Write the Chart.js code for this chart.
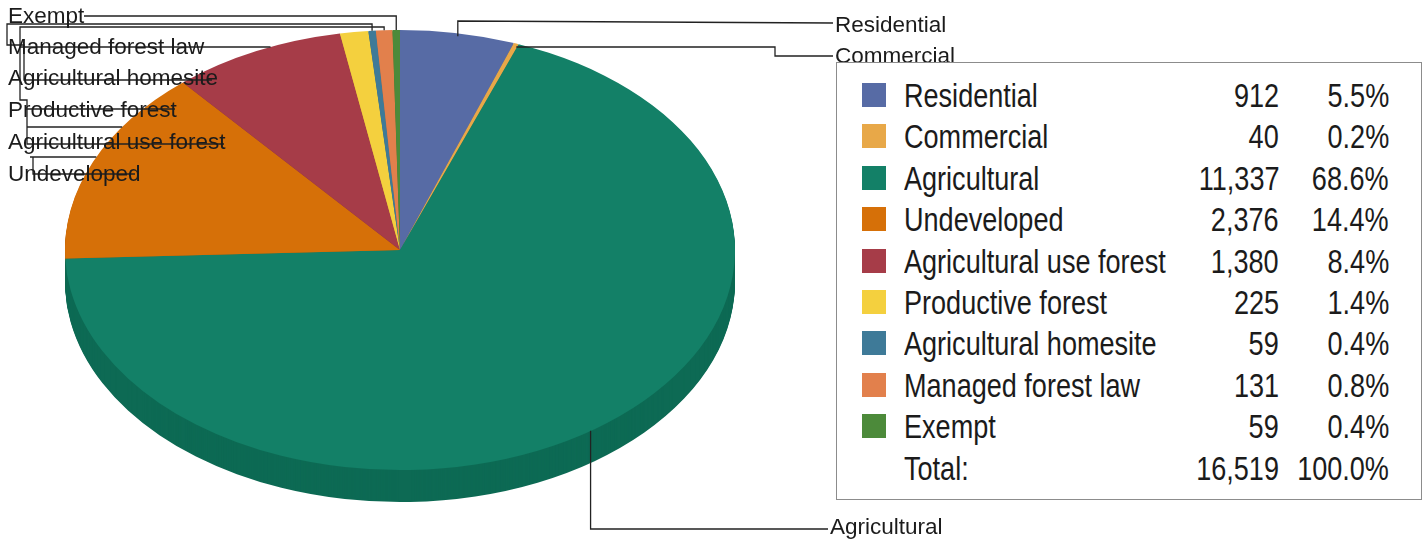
<!DOCTYPE html>
<html>
<head>
<meta charset="utf-8">
<script src="https://cdn.jsdelivr.net/npm/chart.js@4/dist/chart.umd.min.js"></script>
<style>
  html, body { margin: 0; padding: 0; background: #ffffff; }
  #wrap { position: relative; width: 1425px; height: 550px; overflow: hidden; background: #ffffff; }
  #pie { position: absolute; left: 0; top: 0; }
  .callout { position: absolute; font-family: "Liberation Sans", Arial, sans-serif; font-size: 22.5px;
             line-height: 22px; color: #1b1b1b; white-space: nowrap; }
  #legend { position: absolute; left: 836px; top: 62px; width: 584px; height: 436px;
            border: 1px solid #8c8c8c; background: #ffffff; color: #1b1b1b;
            font-family: "Liberation Sans Narrow", "Liberation Sans", Arial, sans-serif; font-size: 33px; }
  #legend div { position: absolute; line-height: 33px; white-space: nowrap; }
  #legend .l { transform: scaleX(0.82); transform-origin: 0 50%; }
  #legend .r { transform: scaleX(0.82); transform-origin: 100% 50%; }
  #legend .sw { width: 24px; height: 24px; }
</style>
</head>
<body>
<div id="wrap">
  <canvas id="pie" width="1425" height="550"></canvas>
  <div id="labels"></div>
  <div id="legend"></div>
</div>
<script>
// Parcel counts by land use class
const categories = ['Residential', 'Commercial', 'Agricultural', 'Undeveloped', 'Agricultural use forest',
                    'Productive forest', 'Agricultural homesite', 'Managed forest law', 'Exempt'];
const parcels = [912, 40, 11337, 2376, 1380, 225, 59, 131, 59];
const totalLabel = 'Total:';

const topColors  = ['#576ba5', '#e8a848', '#138067', '#d67008', '#a63c48', '#f4d03e', '#3e7a98', '#e2804c', '#4c8a3a'];
const sideColors = ['#44558a', '#c08a38', '#0d6a54', '#b05c06', '#88303a', '#cfae30', '#30627c', '#ba683c', '#3c7030'];

const TILT = 0.657;   // vertical squash of the pie disc
const DEPTH = 32;     // thickness of the disc in px

// callout label placement: [left x, vertical centre]
const calloutPos = [
  [835, 25], [835, 56], [830, 527], [8, 174], [8, 142], [8, 110], [8, 78], [8, 47], [8, 16]
];

const total = parcels.reduce((a, b) => a + b, 0);
const fmt = n => n.toLocaleString('en-US');
const pct = n => (n / total * 100).toFixed(1) + '%';

function geom(chart) {
  const meta = chart.getDatasetMeta(0);
  const a0 = meta.data[0];
  const { x, y, outerRadius } = a0.getProps(['x', 'y', 'outerRadius'], true);
  const anchor = i => {
    const p = meta.data[i].getProps(['startAngle', 'endAngle'], true);
    const m = (p.startAngle + p.endAngle) / 2;
    return { x: x + outerRadius * Math.cos(m), y: y + outerRadius * TILT * Math.sin(m) };
  };
  const edgeX = yy => {
    const t = (yy - y) / (outerRadius * TILT);
    return x - outerRadius * Math.sqrt(Math.max(0, 1 - t * t));
  };
  return { meta, x, y, r: outerRadius, anchor, edgeX };
}

const pie3d = {
  id: 'pie3d',
  beforeDatasetsDraw(chart) {
    const ctx = chart.ctx;
    const g = geom(chart);
    const sector = (arc, dy, color) => {
      const p = arc.getProps(['x', 'y', 'startAngle', 'endAngle', 'outerRadius'], true);
      ctx.save();
      ctx.translate(p.x, p.y + dy);
      ctx.scale(1, TILT);
      ctx.beginPath();
      ctx.moveTo(0, 0);
      ctx.arc(0, 0, p.outerRadius, p.startAngle, p.endAngle);
      ctx.closePath();
      ctx.fillStyle = color;
      ctx.fill();
      ctx.restore();
    };
    for (let d = DEPTH; d > 0; d--) {
      g.meta.data.forEach((arc, i) => sector(arc, d, sideColors[i]));
    }
    g.meta.data.forEach((arc, i) => sector(arc, 0, topColors[i]));
    return false;
  },
  afterDraw(chart) {
    const ctx = chart.ctx;
    const g = geom(chart);
    const a = categories.map((_, i) => g.anchor(i));
    const paths = [
      [[833, 23], [a[0].x, 21], [a[0].x, a[0].y + 3]],
      [[833, 56], [775, 56], [775, 47], [a[1].x, 47]],
      [[828, 529], [a[2].x - 5, 529], [a[2].x - 5, a[2].y + 2]],
      [[84, 16], [a[8].x, 16], [a[8].x, a[8].y]],
      [[a[7].x, a[7].y], [a[7].x, 27], [20, 27], [20, 47], [g.edgeX(47), 47]],
      [[a[6].x, a[6].y], [a[6].x, 24], [7, 24], [7, 45], [24, 45], [24, 80], [212, 80]],
      [[20, 47], [20, 100], [27, 100], [27, 109], [175, 109]],
      [[27, 109], [27, 144], [224, 144]],
      [[27, 127], [g.edgeX(127), 127]],
      [[30, 157], [g.edgeX(157), 157]],
      [[33, 157], [33, 174], [135, 174]]
    ];
    ctx.save();
    ctx.strokeStyle = '#222222';
    ctx.lineWidth = 1.3;
    paths.forEach(pts => {
      ctx.beginPath();
      pts.forEach((p, k) => k ? ctx.lineTo(p[0], p[1]) : ctx.moveTo(p[0], p[1]));
      ctx.stroke();
    });
    ctx.restore();
  }
};

new Chart(document.getElementById('pie'), {
  type: 'pie',
  data: {
    labels: categories,
    datasets: [{ data: parcels, backgroundColor: topColors, borderWidth: 0, radius: 335 }]
  },
  options: {
    responsive: false,
    animation: false,
    layout: { padding: { left: 0, top: 0, right: 625, bottom: 50 } },
    plugins: { legend: { display: false }, tooltip: { enabled: false } }
  },
  plugins: [pie3d]
});

// callout labels
const labelsEl = document.getElementById('labels');
categories.forEach((c, i) => {
  const s = document.createElement('div');
  s.className = 'callout';
  s.textContent = c;
  s.style.left = calloutPos[i][0] + 'px';
  s.style.top = (calloutPos[i][1] - 11) + 'px';
  labelsEl.appendChild(s);
});

// legend table
const lg = document.getElementById('legend');
const rowY = i => 32 + i * 41.4;
const add = (cls, text, css) => {
  const d = document.createElement('div');
  if (cls) d.className = cls;
  if (text !== null) d.textContent = text;
  Object.assign(d.style, css);
  lg.appendChild(d);
};
categories.forEach((c, i) => {
  const cy = rowY(i);
  add('sw', null, { left: '25px', top: (cy - 12) + 'px', background: topColors[i] });
  add('l', c, { left: '67px', top: (cy - 16) + 'px' });
  add('r', fmt(parcels[i]), { right: '142px', top: (cy - 16) + 'px' });
  add('r', pct(parcels[i]), { right: '32px', top: (cy - 16) + 'px' });
});
const ty = rowY(categories.length);
add('l', totalLabel, { left: '67px', top: (ty - 16) + 'px' });
add('r', fmt(total), { right: '142px', top: (ty - 16) + 'px' });
add('r', (100).toFixed(1) + '%', { right: '32px', top: (ty - 16) + 'px' });
</script>
</body>
</html>
